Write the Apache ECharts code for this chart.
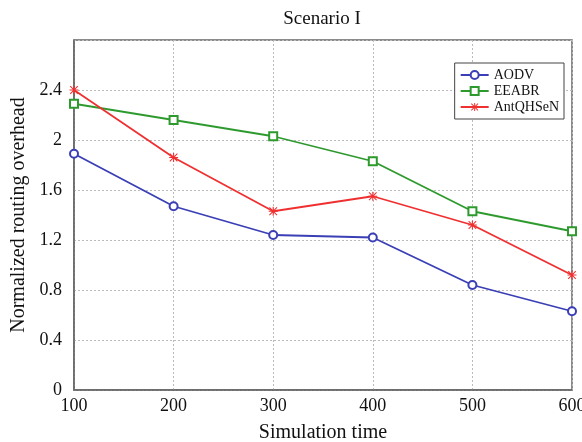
<!DOCTYPE html>
<html><head><meta charset="utf-8">
<script src="https://cdn.jsdelivr.net/npm/echarts@6/dist/echarts.min.js"></script>
<style>html,body{margin:0;padding:0;background:#fff}#c{width:582px;height:442px}</style>
</head><body><div id="c"></div>
<script>
const categories = [100, 200, 300, 400, 500, 600];
const aodv = [1.89, 1.47, 1.24, 1.22, 0.84, 0.63];
const eeabr = [2.29, 2.16, 2.03, 1.83, 1.43, 1.27];
const antqhsen = [2.40, 1.86, 1.43, 1.55, 1.32, 0.92];
const seriesNames = ['AODV', 'EEABR', 'AntQHSeN'];

const font = '"Liberation Serif", "DejaVu Serif", serif';
const star = 'path://M4.4,0 L5.6,0 L5.6,10 L4.4,10 Z M0,4.4 L10,4.4 L10,5.6 L0,5.6 Z M1.2,0.4 L9.6,8.8 L8.8,9.6 L0.4,1.2 Z M8.8,0.4 L9.6,1.2 L1.2,9.6 L0.4,8.8 Z';

const chart = echarts.init(document.getElementById('c'));
chart.setOption({
  animation: false,
  title: { text: 'Scenario I', left: 317, top: 5, textAlign: 'center',
    textStyle: { fontFamily: font, fontSize: 19, fontWeight: 'normal', color: '#111' } },
  legend: {
    orient: 'vertical', right: 18, top: 63, backgroundColor: '#fff',
    borderColor: '#444', borderWidth: 1, padding: [5, 5, 5, 5],
    itemGap: 2, itemWidth: 28, itemHeight: 10,
    textStyle: { fontFamily: font, fontSize: 14, color: '#111' },
    data: seriesNames
  },
  grid: { left: 74, right: 10, top: 40, bottom: 52, show: true, borderColor: '#666', borderWidth: 1.5,
    outerBoundsMode: 'none' },
  xAxis: {
    type: 'value', min: 100, max: 600, interval: 100,
    name: 'Simulation time', nameLocation: 'middle', nameGap: 33,
    nameTextStyle: { fontFamily: font, fontSize: 20, color: '#111' },
    axisLine: { lineStyle: { color: '#666', width: 1.5 } },
    axisTick: { show: false },
    axisLabel: { fontFamily: font, fontSize: 18, color: '#111', margin: 7 },
    splitLine: { show: true, lineStyle: { color: '#bbb', type: [2, 2] } }
  },
  yAxis: {
    type: 'value', min: 0, max: 2.8, interval: 0.4,
    name: 'Normalized routing overhead', nameLocation: 'middle', nameGap: 44,
    nameTextStyle: { fontFamily: font, fontSize: 20, color: '#111' },
    axisLine: { lineStyle: { color: '#666', width: 1.5 } },
    axisTick: { show: false },
    axisLabel: { fontFamily: font, fontSize: 18, color: '#111', margin: 12, showMaxLabel: false,
      formatter: v => String(Math.round(v * 10) / 10) },
    splitLine: { show: true, lineStyle: { color: '#bbb', type: [2, 2] } }
  },
  series: [
    { name: seriesNames[0], type: 'line', data: categories.map((c, i) => [c, aodv[i]]),
      symbol: 'emptyCircle', symbolSize: 8, color: '#3a3fb5',
      lineStyle: { width: 1.8 }, itemStyle: { borderWidth: 1.6 } },
    { name: seriesNames[1], type: 'line', data: categories.map((c, i) => [c, eeabr[i]]),
      symbol: 'emptyRect', symbolSize: 8, color: '#2e9a2e',
      lineStyle: { width: 1.8 }, itemStyle: { borderWidth: 1.6 } },
    { name: seriesNames[2], type: 'line', data: categories.map((c, i) => [c, antqhsen[i]]),
      symbol: star, symbolSize: 9, color: '#f03030',
      lineStyle: { width: 1.8 } }
  ]
});
</script></body></html>
